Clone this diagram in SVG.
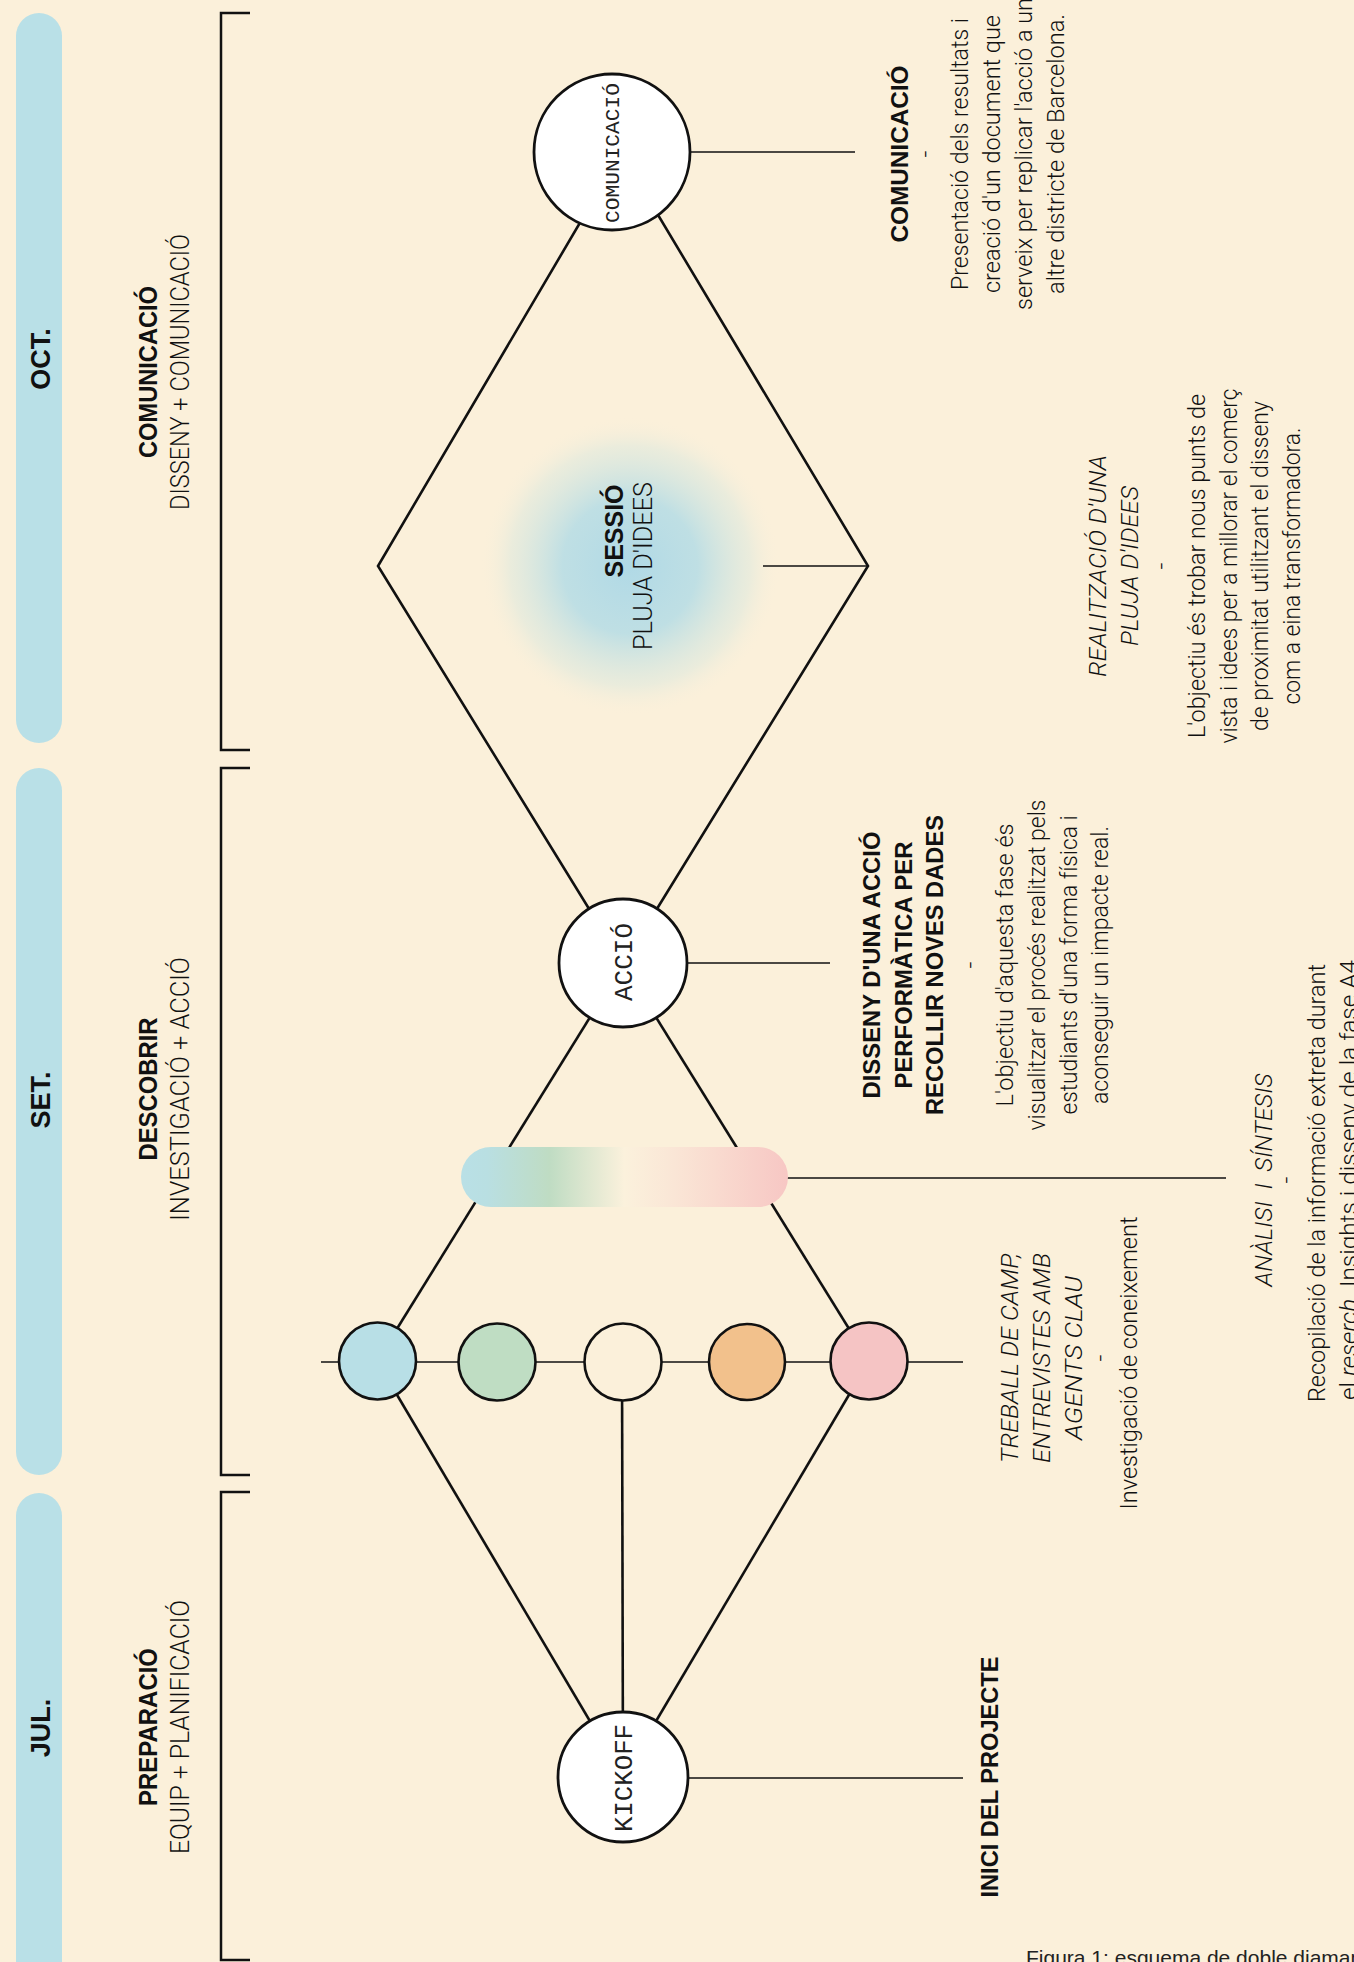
<svg xmlns="http://www.w3.org/2000/svg" width="1354" height="1962" viewBox="0 0 1354 1962">
<defs>
<style>
.pill{fill:#b9e0e7}
.br{fill:none;stroke:#111;stroke-width:2.5}
.dl{stroke:#111;stroke-width:2.6;fill:none}
.tl{stroke:#111;stroke-width:1.5;fill:none}
.big{fill:#fff;stroke:#111;stroke-width:2.8}
.sm{stroke:#111;stroke-width:2.6}
text{fill:#111;text-anchor:middle}
.mono{font-family:"Liberation Mono","DejaVu Sans Mono",monospace;fill:#222}
.b{font-family:"Liberation Sans",Arial,sans-serif;font-weight:700}
.l{font-family:Roboto,"Liberation Sans",Arial,sans-serif;font-weight:300}
.i{font-style:italic}
</style>
<linearGradient id="pg" x1="0" y1="0" x2="1" y2="0">
<stop offset="0" stop-color="#b9e0e6"/>
<stop offset="0.08" stop-color="#b9dfe2"/>
<stop offset="0.27" stop-color="#bfdcc3"/>
<stop offset="0.5" stop-color="#fbf1dc"/>
<stop offset="0.65" stop-color="#fae6d6"/>
<stop offset="0.9" stop-color="#f8d0c9"/>
<stop offset="1" stop-color="#f7c7c4"/>
</linearGradient>
<radialGradient id="glow" gradientUnits="userSpaceOnUse" cx="630" cy="566" r="150">
<stop offset="0" stop-color="#b0d9e6" stop-opacity="1"/>
<stop offset="0.45" stop-color="#b8dde5" stop-opacity="0.9"/>
<stop offset="0.8" stop-color="#d6e7df" stop-opacity="0.45"/>
<stop offset="1" stop-color="#fbf0da" stop-opacity="0"/>
</radialGradient>
</defs>
<rect width="1354" height="1962" fill="#fbf0da"/>

<g id="months">
<rect class="pill" x="16" y="13" width="46" height="730" rx="23"/>
<rect class="pill" x="16" y="768" width="46" height="707" rx="23"/>
<rect class="pill" x="16" y="1493" width="46" height="520" rx="23"/>
<text class="b" font-size="27" transform="translate(50 359) rotate(-90)">OCT.</text>
<text class="b" font-size="27" transform="translate(50 1100) rotate(-90)">SET.</text>
<text class="b" font-size="27" transform="translate(50 1728) rotate(-90)">JUL.</text>
</g>

<g id="brackets">
<path class="br" d="M250 13 H221 V750 H250"/>
<path class="br" d="M250 768 H221 V1475 H250"/>
<path class="br" d="M250 1492 H221 V1960 H250"/>
</g>

<g id="phase-labels">
<g transform="translate(0 372) rotate(-90)">
<text class="b" font-size="25" y="157" textLength="172" lengthAdjust="spacingAndGlyphs">COMUNICACIÓ</text>
<text class="l" font-size="25" y="189" textLength="276" lengthAdjust="spacingAndGlyphs">DISSENY + COMUNICACIÓ</text>
</g>
<g transform="translate(0 1089) rotate(-90)">
<text class="b" font-size="25" y="157" textLength="143" lengthAdjust="spacingAndGlyphs">DESCOBRIR</text>
<text class="l" font-size="25" y="189" textLength="264" lengthAdjust="spacingAndGlyphs">INVESTIGACIÓ + ACCIÓ</text>
</g>
<g transform="translate(0 1727) rotate(-90)">
<text class="b" font-size="25" y="157" textLength="158" lengthAdjust="spacingAndGlyphs">PREPARACIÓ</text>
<text class="l" font-size="25" y="189" textLength="254" lengthAdjust="spacingAndGlyphs">EQUIP + PLANIFICACIÓ</text>
</g>
</g>

<circle cx="630" cy="566" r="150" fill="url(#glow)"/>

<g id="connectors">
<line class="dl" x1="623" y1="1777" x2="377" y2="1361"/>
<line class="dl" x1="623" y1="1777" x2="869" y2="1361"/>
<line class="dl" x1="623" y1="1777" x2="622" y2="1361"/>
<line class="dl" x1="377" y1="1361" x2="623" y2="964"/>
<line class="dl" x1="869" y1="1361" x2="623" y2="964"/>
<polyline class="dl" points="623,964 378,566 621,153"/>
<polyline class="dl" points="623,964 868,566 621,153"/>
<line class="tl" x1="321" y1="1362" x2="963" y2="1362"/>
<line class="tl" x1="688" y1="1778" x2="963" y2="1778"/>
<line class="tl" x1="786" y1="1178" x2="1226" y2="1178"/>
<line class="tl" x1="688" y1="963" x2="830" y2="963"/>
<line class="tl" x1="763" y1="566" x2="868" y2="566"/>
<line class="tl" x1="690" y1="152" x2="855" y2="152"/>
</g>

<g id="node-analisi">
<rect x="461" y="1147" width="327" height="60" rx="30" fill="url(#pg)"/>
</g>

<g id="node-row">
<circle class="sm" cx="377.5" cy="1361" r="38.5" fill="#b8dfe6"/>
<circle class="sm" cx="497" cy="1362" r="38.5" fill="#bfddc3"/>
<circle class="sm" cx="623" cy="1362" r="38.5" fill="#fbf0da"/>
<circle class="sm" cx="747" cy="1362" r="38" fill="#f2c18c"/>
<circle class="sm" cx="869" cy="1361" r="38.5" fill="#f5c4c4"/>
</g>

<g id="node-kickoff">
<circle class="big" cx="623" cy="1777" r="65"/>
<text class="mono" font-size="25" transform="translate(632 1778) rotate(-90)" textLength="108" lengthAdjust="spacingAndGlyphs">KICKOFF</text>
</g>

<g id="node-accio">
<circle class="big" cx="623" cy="963" r="64"/>
<text class="mono" font-size="25" transform="translate(632 962) rotate(-90)" textLength="78" lengthAdjust="spacingAndGlyphs">ACCIÓ</text>
</g>

<g id="node-comunicacio">
<circle class="big" cx="612" cy="152" r="78"/>
<text class="mono" font-size="21" transform="translate(619 153) rotate(-90)" textLength="140" lengthAdjust="spacingAndGlyphs">COMUNICACIÓ</text>
</g>

<g id="node-sessio">
<text class="b" font-size="25" transform="translate(623 531) rotate(-90)">SESSIÓ</text>
<text class="l" font-size="25" transform="translate(652 566) rotate(-90)" textLength="168" lengthAdjust="spacingAndGlyphs">PLUJA D'IDEES</text>
</g>

<g id="desc-comunicacio" transform="translate(0 154) rotate(-90)">
<text class="b" font-size="24" y="908" textLength="177" lengthAdjust="spacingAndGlyphs">COMUNICACIÓ</text>
<text class="l" font-size="24" y="933">-</text>
<text class="l" font-size="24" y="968" textLength="272" lengthAdjust="spacingAndGlyphs">Presentació dels resultats i</text>
<text class="l" font-size="24" y="1000" textLength="278" lengthAdjust="spacingAndGlyphs">creació d'un document que</text>
<text class="l" font-size="24" y="1032" textLength="312" lengthAdjust="spacingAndGlyphs">serveix per replicar l'acció a un</text>
<text class="l" font-size="24" y="1064" textLength="280" lengthAdjust="spacingAndGlyphs">altre districte de Barcelona.</text>
</g>

<g id="desc-sessio" transform="translate(0 566) rotate(-90)">
<text class="l i" font-size="24" y="1106" textLength="222" lengthAdjust="spacingAndGlyphs">REALITZACIÓ D'UNA</text>
<text class="l i" font-size="24" y="1138" textLength="160" lengthAdjust="spacingAndGlyphs">PLUJA D'IDEES</text>
<text class="l" font-size="24" y="1169">-</text>
<text class="l" font-size="24" y="1205" textLength="344" lengthAdjust="spacingAndGlyphs">L'objectiu és trobar nous punts de</text>
<text class="l" font-size="24" y="1237" textLength="355" lengthAdjust="spacingAndGlyphs">vista i idees per a millorar el comerç</text>
<text class="l" font-size="24" y="1268" textLength="330" lengthAdjust="spacingAndGlyphs">de proximitat utilitzant el disseny</text>
<text class="l" font-size="24" y="1300" textLength="277" lengthAdjust="spacingAndGlyphs">com a eina transformadora.</text>
</g>

<g id="desc-accio" transform="translate(0 965) rotate(-90)">
<text class="b" font-size="24" y="880" textLength="267" lengthAdjust="spacingAndGlyphs">DISSENY D'UNA ACCIÓ</text>
<text class="b" font-size="24" y="912" textLength="247" lengthAdjust="spacingAndGlyphs">PERFORMÀTICA PER</text>
<text class="b" font-size="24" y="943" textLength="300" lengthAdjust="spacingAndGlyphs">RECOLLIR NOVES DADES</text>
<text class="l" font-size="24" y="978">-</text>
<text class="l" font-size="24" y="1013" textLength="283" lengthAdjust="spacingAndGlyphs">L'objectiu d'aquesta fase és</text>
<text class="l" font-size="24" y="1045" textLength="331" lengthAdjust="spacingAndGlyphs">visualitzar el procés realitzat pels</text>
<text class="l" font-size="24" y="1077" textLength="299" lengthAdjust="spacingAndGlyphs">estudiants d'una forma física i</text>
<text class="l" font-size="24" y="1108" textLength="278" lengthAdjust="spacingAndGlyphs">aconseguir un impacte real.</text>
</g>

<g id="desc-treball" transform="translate(0 1358) rotate(-90)">
<text class="l i" font-size="24" y="1018" textLength="210" lengthAdjust="spacingAndGlyphs">TREBALL DE CAMP,</text>
<text class="l i" font-size="24" y="1050" textLength="210" lengthAdjust="spacingAndGlyphs">ENTREVISTES AMB</text>
<text class="l i" font-size="24" y="1082" textLength="164" lengthAdjust="spacingAndGlyphs">AGENTS CLAU</text>
<text class="l" font-size="24" y="1108">-</text>
<text class="l" font-size="24" y="1137" x="-5" textLength="293" lengthAdjust="spacingAndGlyphs">Investigació de coneixement</text>
</g>

<g id="desc-analisi" transform="translate(0 1180) rotate(-90)">
<text class="l i" font-size="24" y="1272" textLength="213" lengthAdjust="spacingAndGlyphs">ANÀLISI&#160; I &#160;SÍNTESIS</text>
<text class="l" font-size="24" y="1294">-</text>
<text class="l" font-size="24" y="1325" x="-3" textLength="438" lengthAdjust="spacingAndGlyphs">Recopilació de la informació extreta durant</text>
<text class="l" font-size="24" y="1357" textLength="440" lengthAdjust="spacingAndGlyphs">el <tspan class="i">reserch</tspan>. Insights i disseny de la fase A4</text>
</g>

<g id="desc-kickoff">
<text class="b" font-size="24" transform="translate(998 1777) rotate(-90)" textLength="241" lengthAdjust="spacingAndGlyphs">INICI DEL PROJECTE</text>
</g>

<text font-family="Liberation Sans, Arial, sans-serif" font-size="21" x="1026" y="1965" style="text-anchor:start;fill:#222">Figura 1: esquema de doble diamant</text>
</svg>
